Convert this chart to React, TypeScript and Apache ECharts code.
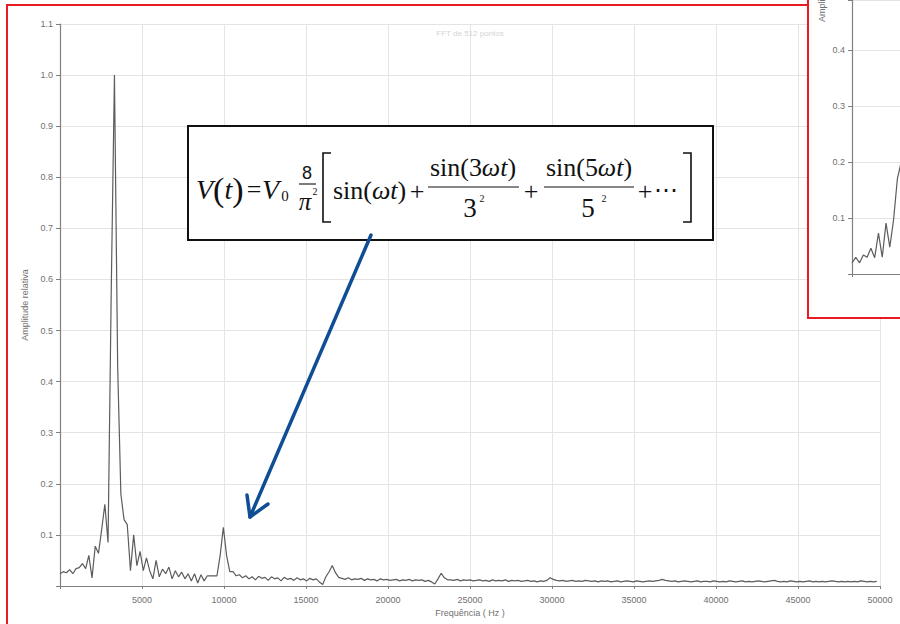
import { useEffect, useRef } from "react";
import * as echarts from "echarts";

// FFT of 512 points, 100 kHz sampling -> 195.3125 Hz per bin (bins 0..255)
const BIN_HZ = 195.3125;

const amplitude: number[] = [
  0.024, 0.028, 0.026, 0.032, 0.024, 0.034, 0.036, 0.044, 0.034, 0.060,
  0.016, 0.078, 0.064, 0.110, 0.160, 0.085, 0.580, 1.000, 0.430, 0.180,
  0.130, 0.120, 0.030, 0.100, 0.040, 0.068, 0.030, 0.055, 0.030, 0.014,
  0.050, 0.018, 0.033, 0.024, 0.037, 0.014, 0.030, 0.018, 0.027, 0.014,
  0.024, 0.010, 0.024, 0.006, 0.022, 0.010, 0.020, 0.020, 0.020, 0.020,
  0.060, 0.115, 0.060, 0.028, 0.028, 0.020, 0.022, 0.016, 0.020, 0.014,
  0.018, 0.012, 0.019, 0.015, 0.017, 0.011, 0.018, 0.014, 0.016, 0.010,
  0.017, 0.013, 0.015, 0.011, 0.016, 0.012, 0.014, 0.010, 0.015, 0.012,
  0.014, 0.008, 0.003, 0.018, 0.028, 0.040, 0.026, 0.017, 0.015, 0.013,
  0.016, 0.012, 0.014, 0.013, 0.015, 0.011, 0.014, 0.012, 0.013, 0.010,
  0.014, 0.012, 0.013, 0.011, 0.012, 0.013, 0.010, 0.012, 0.011, 0.013,
  0.010, 0.012, 0.011, 0.012, 0.009, 0.011, 0.008, 0.004, 0.014, 0.025,
  0.016, 0.012, 0.012, 0.011, 0.013, 0.010, 0.012, 0.011, 0.012, 0.010,
  0.011, 0.012, 0.010, 0.011, 0.009, 0.012, 0.010, 0.011, 0.010, 0.012,
  0.009, 0.011, 0.010, 0.011, 0.009, 0.010, 0.011, 0.009, 0.010, 0.008,
  0.010, 0.009, 0.011, 0.016, 0.013, 0.011, 0.010, 0.011, 0.009, 0.010,
  0.011, 0.009, 0.010, 0.009, 0.011, 0.010, 0.009, 0.010, 0.008, 0.010,
  0.009, 0.010, 0.008, 0.009, 0.010, 0.008, 0.009, 0.010, 0.009, 0.008,
  0.010, 0.009, 0.008, 0.009, 0.010, 0.009, 0.010, 0.011, 0.013, 0.011,
  0.010, 0.009, 0.010, 0.008, 0.009, 0.010, 0.009, 0.008, 0.009, 0.010,
  0.008, 0.009, 0.009, 0.008, 0.010, 0.009, 0.008, 0.009, 0.008, 0.010,
  0.009, 0.008, 0.009, 0.010, 0.008, 0.009, 0.008, 0.009, 0.010, 0.009,
  0.008, 0.009, 0.010, 0.011, 0.009, 0.008, 0.009, 0.008, 0.010, 0.009,
  0.008, 0.009, 0.008, 0.009, 0.010, 0.008, 0.009, 0.008, 0.009, 0.008,
  0.009, 0.010, 0.009, 0.008, 0.009, 0.008, 0.009, 0.008, 0.009, 0.008,
  0.010, 0.009, 0.008, 0.009, 0.008, 0.009,
];

// Detail panel (zoomed view of the low-frequency region)
const detailAmplitude: number[] = [
  0.02, 0.03, 0.02, 0.034, 0.03, 0.046, 0.029, 0.073, 0.03, 0.091, 0.048, 0.097, 0.17, 0.2,
];

const X_MAX = 50000;
const X_STEP = 5000;
const Y_MAX = 1.1;
const Y_STEP = 0.1;

const SERIF = '"Liberation Serif", "Times New Roman", "DejaVu Serif", serif';
const SANS = '"Liberation Sans", Arial, sans-serif';
const AXIS_GREY = "#808080";
const LABEL_GREY = "#707070";
const GRID_GREY = "#e4e4e4";
const RED = "#ea1a20";
const ARROW_BLUE = "#0f4e94";

const tickLabel = (v: number) => {
  if (Math.abs(v) < 1e-9) return "";
  if (Math.abs(v * 10 - Math.round(v * 10)) > 1e-6) return "";
  return v.toFixed(1);
};

type TxtOpts = { italic?: boolean; align?: string; family?: string; color?: string };
const txt = (text: string, x: number, y: number, size: number, o: TxtOpts = {}) => ({
  type: "text",
  x,
  y,
  z: 21,
  style: {
    text,
    fontSize: size,
    fontFamily: o.family || SERIF,
    fontStyle: o.italic ? "italic" : "normal",
    fill: o.color || "#111",
    textAlign: o.align || "center",
    textVerticalAlign: "middle",
  },
});

const richTxt = (text: string, x: number, y: number, size: number, align: string) => ({
  type: "text",
  x,
  y,
  z: 21,
  style: {
    text,
    fill: "#111",
    textAlign: align,
    textVerticalAlign: "middle",
    rich: {
      r: { fontSize: size, fontFamily: SERIF, fill: "#111" },
      i: { fontSize: size, fontFamily: SERIF, fontStyle: "italic", fill: "#111" },
      p: { fontSize: size + 6, fontFamily: SERIF, fill: "#111" },
    },
  },
});

const hLine = (x1: number, x2: number, y: number) => ({
  type: "line",
  z: 21,
  shape: { x1, y1: y, x2, y2: y },
  style: { stroke: "#111", lineWidth: 1.1 },
});

export default function App() {
  const ref = useRef<HTMLDivElement>(null);

  useEffect(() => {
    if (!ref.current) return;
    const chart = echarts.init(ref.current, null, { renderer: "svg" });

    const spectrum = amplitude.map((a, i) => [i * BIN_HZ, a]);
    const detail = detailAmplitude.map((a, i) => [i, a]);

    // arrow geometry
    const tail = [371, 235];
    const tip = [250, 517];

    chart.setOption({
      animation: false,
      backgroundColor: "#fff",
      grid: [
        { left: 60, right: 20, top: 24, bottom: 38 },
        { left: 852, right: 0, top: 0, bottom: 350 },
      ],
      xAxis: [
        {
          gridIndex: 0,
          type: "value",
          min: 0,
          max: X_MAX,
          interval: X_STEP,
          name: "Frequência ( Hz )",
          nameLocation: "middle",
          nameGap: 22,
          nameTextStyle: { color: LABEL_GREY, fontSize: 9, fontFamily: SANS },
          axisLine: { lineStyle: { color: AXIS_GREY, width: 1.2 } },
          axisTick: { show: true, length: 3, lineStyle: { color: AXIS_GREY } },
          axisLabel: {
            color: LABEL_GREY,
            fontSize: 9,
            fontFamily: SANS,
            margin: 9,
            formatter: (v: number) => (v === 0 ? "" : String(v)),
          },
          splitLine: { show: true, lineStyle: { color: GRID_GREY, width: 1 } },
          z: 0,
        },
        {
          gridIndex: 1,
          type: "value",
          min: 0,
          max: 12.7,
          interval: 20,
          axisLine: { lineStyle: { color: AXIS_GREY, width: 1.2 } },
          axisTick: { show: true, length: 3, lineStyle: { color: AXIS_GREY } },
          axisLabel: { show: false },
          splitLine: { show: false },
          z: 11,
        },
      ],
      yAxis: [
        {
          gridIndex: 0,
          type: "value",
          min: 0,
          max: Y_MAX,
          interval: Y_STEP,
          name: "Amplitude relativa",
          nameLocation: "middle",
          nameGap: 25,
          nameTextStyle: { color: LABEL_GREY, fontSize: 9, fontFamily: SANS },
          axisLine: { show: true, lineStyle: { color: AXIS_GREY, width: 1.2 } },
          axisTick: { show: true, length: 4, lineStyle: { color: AXIS_GREY } },
          axisLabel: { color: LABEL_GREY, fontSize: 9, fontFamily: SANS, margin: 7, formatter: tickLabel },
          splitLine: { show: true, lineStyle: { color: GRID_GREY, width: 1 } },
          z: 0,
        },
        {
          gridIndex: 1,
          type: "value",
          min: 0,
          max: 0.49,
          interval: 0.1,
          axisLine: { show: true, lineStyle: { color: AXIS_GREY, width: 1.2 } },
          axisTick: { show: true, length: 4, lineStyle: { color: AXIS_GREY } },
          axisLabel: { color: LABEL_GREY, fontSize: 9, fontFamily: SANS, margin: 7, formatter: tickLabel },
          splitLine: { show: true, lineStyle: { color: GRID_GREY, width: 1 } },
          z: 11,
        },
      ],
      series: [
        {
          type: "line",
          xAxisIndex: 0,
          yAxisIndex: 0,
          data: spectrum,
          showSymbol: false,
          lineStyle: { color: "#5c5c5c", width: 1.2 },
          z: 2,
        },
        {
          type: "line",
          xAxisIndex: 1,
          yAxisIndex: 1,
          data: detail,
          showSymbol: false,
          lineStyle: { color: "#5c5c5c", width: 1.2 },
          z: 12,
        },
      ],
      graphic: [
        // faint chart title
        {
          type: "text",
          x: 470,
          y: 33,
          z: 5,
          style: {
            text: "FFT de 512 pontos",
            fontSize: 8,
            fontFamily: SANS,
            fill: "#d4d4d4",
            textAlign: "center",
            textVerticalAlign: "middle",
          },
        },
        // outer frame
        {
          type: "rect",
          z: 9,
          shape: { x: 7, y: 5, width: 1000, height: 1000 },
          style: { fill: "none", stroke: RED, lineWidth: 2 },
        },
        // detail panel frame
        {
          type: "rect",
          z: 10,
          shape: { x: 808, y: -10, width: 200, height: 328 },
          style: { fill: "#fff", stroke: RED, lineWidth: 2 },
        },
        {
          type: "text",
          x: 822,
          y: 22,
          rotation: Math.PI / 2,
          z: 11,
          style: {
            text: "Amplitude relativa",
            fontSize: 9,
            fontFamily: SANS,
            fill: LABEL_GREY,
            textAlign: "left",
            textVerticalAlign: "middle",
          },
        },
        // equation box
        {
          type: "rect",
          z: 20,
          shape: { x: 188, y: 126, width: 525, height: 114 },
          style: { fill: "#fff", stroke: "#111", lineWidth: 2 },
        },
        richTxt("{i|V}{p|(}{i|t}{p|)}", 196, 189, 28, "left"),
        txt("=", 254, 189, 26),
        txt("V", 262, 189, 28, { italic: true, align: "left" }),
        txt("0", 285, 196, 15),
        txt("8", 307, 173, 18, { family: SANS }),
        hLine(299, 316, 184),
        txt("π", 305, 201, 25, { italic: true }),
        txt("2", 315, 191, 10),
        {
          type: "polyline",
          z: 21,
          shape: { points: [[331, 153], [323, 153], [323, 222], [331, 222]] },
          style: { stroke: "#111", lineWidth: 1.6, fill: "none" },
        },
        richTxt("{r|sin(}{i|ωt}{r|)}", 333, 190, 26, "left"),
        txt("+", 417, 191, 26),
        richTxt("{r|sin(3}{i|ωt}{r|)}", 473, 167, 26, "center"),
        hLine(428, 519, 187),
        txt("3", 470, 208, 27),
        txt("2", 482, 198, 10),
        txt("+", 531, 191, 26),
        richTxt("{r|sin(5}{i|ωt}{r|)}", 589, 167, 26, "center"),
        hLine(544, 634, 187),
        txt("5", 588, 208, 27),
        txt("2", 604, 198, 10),
        txt("+", 645, 191, 26),
        txt("⋯", 666, 190, 24),
        {
          type: "polyline",
          z: 21,
          shape: { points: [[683, 153], [691, 153], [691, 222], [683, 222]] },
          style: { stroke: "#111", lineWidth: 1.6, fill: "none" },
        },
        // arrow pointing at the third harmonic
        {
          type: "line",
          z: 22,
          shape: { x1: tail[0], y1: tail[1], x2: tip[0], y2: tip[1] },
          style: { stroke: ARROW_BLUE, lineWidth: 3.5, lineCap: "round" },
        },
        {
          type: "polyline",
          z: 22,
          shape: { points: [[247, 495], [tip[0], tip[1]], [268, 504]] },
          style: { stroke: ARROW_BLUE, lineWidth: 3.5, fill: "none", lineCap: "round", lineJoin: "round" },
        },
      ],
    });

    return () => chart.dispose();
  }, []);

  return (
    <div
      ref={ref}
      style={{ position: "fixed", left: 0, top: 0, width: 900, height: 624, background: "#fff" }}
    />
  );
}
